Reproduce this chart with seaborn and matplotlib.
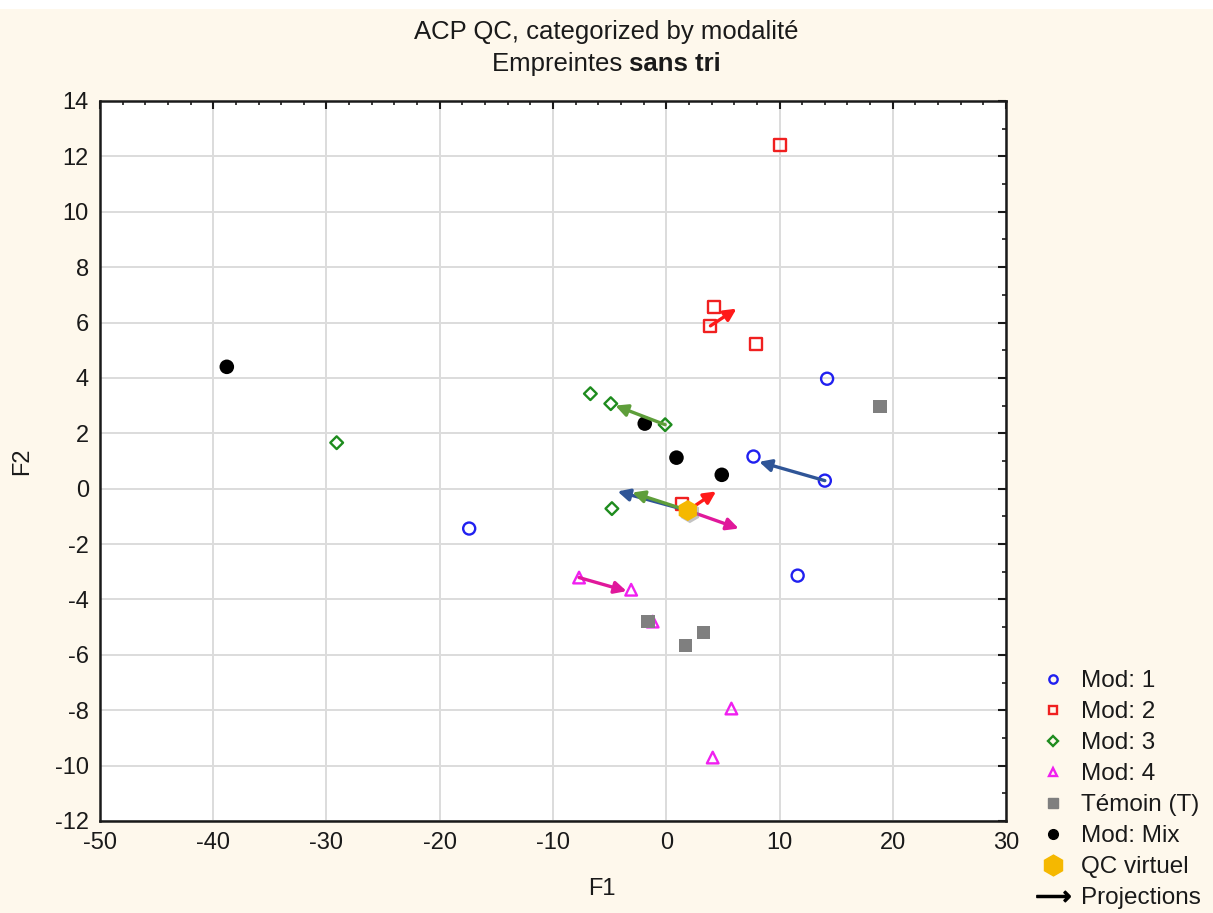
import matplotlib
matplotlib.use('Agg')
import matplotlib.pyplot as plt
import matplotlib.patheffects as pe
from matplotlib.lines import Line2D
from matplotlib.patches import Rectangle
import seaborn as sns

# Données (F1, F2)
mod1_f1 = [14.2, 7.7, 14.0, -17.4, 11.6]
mod1_f2 = [3.97, 1.16, 0.29, -1.44, -3.14]
mod2_f1 = [10.0, 4.2, 3.9, 7.9, 1.4]
mod2_f2 = [12.42, 6.57, 5.88, 5.23, -0.54]
mod3_f1 = [-6.7, -4.9, -0.1, -29.1, -4.8]
mod3_f2 = [3.43, 3.07, 2.31, 1.66, -0.72]
mod4_f1 = [-7.7, -3.1, -1.2, 5.75, 4.1]
mod4_f2 = [-3.21, -3.65, -4.8, -7.94, -9.71]
temoin_f1 = [-1.6, 1.7, 3.3, 18.85]
temoin_f2 = [-4.8, -5.67, -5.2, 2.96]
mix_f1 = [-38.8, -1.9, 0.9, 4.9]
mix_f2 = [4.4, 2.35, 1.12, 0.5]
qc_f1 = [1.9]
qc_f2 = [-0.79]

# Projections : départ -> arrivée
proj_start_f1 = [3.9, -0.1, 14.0, -7.7, 1.9, 1.9, 1.9, 1.9]
proj_start_f2 = [5.88, 2.31, 0.29, -3.21, -0.79, -0.79, -0.79, -0.79]
proj_end_f1 = [6.2, -4.5, 8.2, -3.5, -4.3, -3.0, 4.4, 6.4]
proj_end_f2 = [6.5, 3.0, 0.97, -3.7, -0.1, -0.14, -0.1, -1.44]
proj_colors = ['#FF1A1A', '#5E9E3A', '#2F5597', '#E0189B',
               '#2F5597', '#5E9E3A', '#FF1A1A', '#E0189B']

sns.set_style('white')
plt.rcParams['font.family'] = ['Liberation Sans', 'DejaVu Sans']
plt.rcParams['text.color'] = '#1a1a1a'
plt.rcParams['axes.unicode_minus'] = False

bg = '#FEF8EC'
fig = plt.figure(figsize=(12.13, 9.13), dpi=100, facecolor=bg)
ax = fig.add_axes([0.0824, 0.1008, 0.7470, 0.7886])
ax.set_facecolor('white')
fig.patches.append(Rectangle((0, 0.99), 1, 0.01, transform=fig.transFigure,
                             facecolor='white', edgecolor='none', zorder=0))

ax.set_xlim(-50, 30)
ax.set_ylim(-12, 14)
ax.set_xticks(range(-50, 31, 10))
ax.set_yticks(range(-12, 15, 2))
ax.set_xticks(range(-50, 31, 2), minor=True)
ax.set_yticks(range(-12, 15, 1), minor=True)
ax.grid(True, which='major', color='#DCDCDC', lw=1.4)
ax.tick_params(which='both', direction='in', top=True, right=True,
               labelsize=17, colors='#1a1a1a')
ax.tick_params(which='major', length=6, width=1.5, pad=8)
ax.tick_params(which='minor', length=3, width=1.2)
for s in ax.spines.values():
    s.set_visible(True)
    s.set_color('#1a1a1a')
    s.set_linewidth(1.8)

# Points ouverts
open_groups = [
    (mod1_f1, mod1_f2, 'o', '#2020F0', 'Mod: 1', 75),
    (mod2_f1, mod2_f2, 's', '#F02020', 'Mod: 2', 75),
    (mod3_f1, mod3_f2, 'D', '#1E8C1E', 'Mod: 3', 42),
    (mod4_f1, mod4_f2, '^', '#F020F0', 'Mod: 4', 70),
]
for fx, fy, m, c, lab, s in open_groups:
    sns.scatterplot(x=fx, y=fy, ax=ax, marker=m, s=s, facecolor='none',
                    edgecolor=c, linewidth=1.7, zorder=3)

sns.scatterplot(x=temoin_f1, y=temoin_f2, ax=ax, marker='s', s=95,
                color='#7F7F7F', edgecolor='none', zorder=4)
sns.scatterplot(x=mix_f1, y=mix_f2, ax=ax, marker='o', s=110,
                color='black', edgecolor='none', zorder=4)

for i in range(len(proj_start_f1)):
    ax.annotate('', xy=(proj_end_f1[i], proj_end_f2[i]),
                xytext=(proj_start_f1[i], proj_start_f2[i]),
                arrowprops=dict(arrowstyle='-|>', color=proj_colors[i], lw=2.4,
                                mutation_scale=18, shrinkA=0, shrinkB=0),
                zorder=5)

sns.scatterplot(x=qc_f1, y=qc_f2, ax=ax, marker='h', s=230,
                color='#F5B800', edgecolor='none', zorder=6)
ax.collections[-1].set_path_effects([pe.SimplePatchShadow(offset=(1.5, -1.5),
                                     shadow_rgbFace='#888888', alpha=0.5),
                                     pe.Normal()])
ax.set_xlabel('')
ax.set_ylabel('')

# Libellés des axes
fig.text(0.496, 0.026, 'F1', ha='center', va='center', fontsize=17)
fig.text(0.018, 0.495, 'F2', ha='center', va='center', fontsize=17, rotation=90)

# Titre
fig.text(0.5, 0.965, 'ACP QC, categorized by modalité', ha='center', va='center', fontsize=18.5)
t1 = fig.text(0.5, 0.930, 'Empreintes ', ha='left', va='center', fontsize=18.5)
t2 = fig.text(0.5, 0.930, 'sans tri', ha='left', va='center', fontsize=18.5, fontweight='bold')
fig.canvas.draw()
r = fig.canvas.get_renderer()
w1 = t1.get_window_extent(r).width / fig.bbox.width
w2 = t2.get_window_extent(r).width / fig.bbox.width
x0 = 0.5 - (w1 + w2) / 2
t1.set_x(x0)
t2.set_x(x0 + w1)

# Légende
handles = [
    Line2D([], [], ls='none', marker='o', ms=6, mfc='none', mec='#2020F0', mew=1.7),
    Line2D([], [], ls='none', marker='s', ms=6, mfc='none', mec='#F02020', mew=1.7),
    Line2D([], [], ls='none', marker='D', ms=5, mfc='none', mec='#1E8C1E', mew=1.7),
    Line2D([], [], ls='none', marker='^', ms=6, mfc='none', mec='#F020F0', mew=1.7),
    Line2D([], [], ls='none', marker='s', ms=7, color='#7F7F7F'),
    Line2D([], [], ls='none', marker='o', ms=7, color='black'),
    Line2D([], [], ls='none', marker='h', ms=15, color='#F5B800'),
    Line2D([], [], ls='none', marker=r'$\longrightarrow$', ms=24, color='black'),
]
labels = ['Mod: 1', 'Mod: 2', 'Mod: 3', 'Mod: 4', 'Témoin (T)', 'Mod: Mix',
          'QC virtuel', 'Projections']
fig.legend(handles, labels, loc='upper left', bbox_to_anchor=(0.842, 0.279),
           frameon=False, fontsize=17.5, labelspacing=0.37, handletextpad=0.35,
           handlelength=1.6, borderpad=0)

fig.savefig('out.png', dpi=100, facecolor=bg)
